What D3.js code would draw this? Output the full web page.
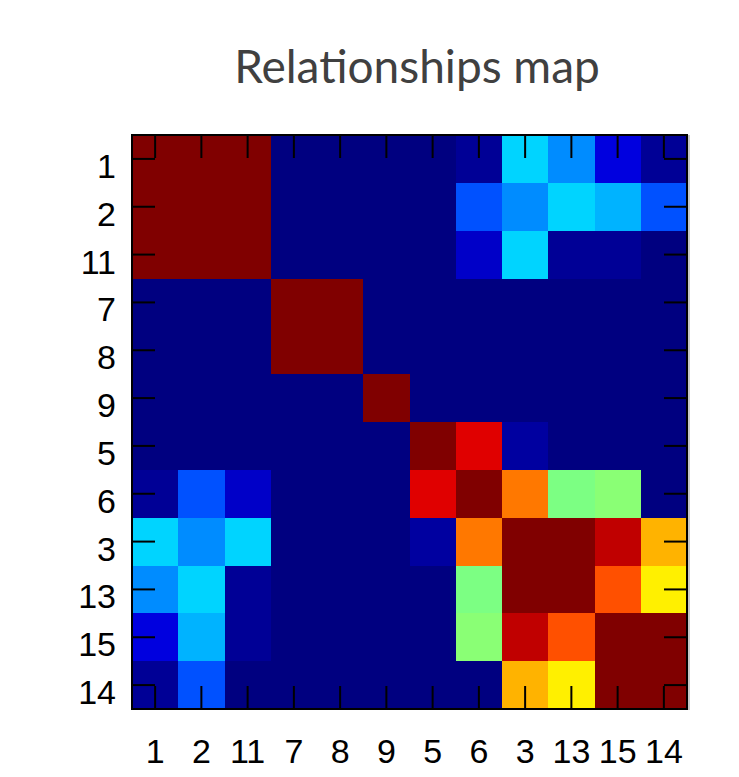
<!DOCTYPE html>
<html>
<head>
<meta charset="utf-8">
<script src="https://cdn.jsdelivr.net/npm/d3@7"></script>
<style>
  html, body { margin: 0; padding: 0; background: #fff; }
  svg { display: block; }
</style>
</head>
<body>
<svg id="chart" width="739" height="777"></svg>
<script>
// Item order shared by rows and columns
const order = ["1", "2", "11", "7", "8", "9", "5", "6", "3", "13", "15", "14"];

// Pairwise relationship strength (0..1), one array per row, columns in `order`
const row1  = [1, 1, 1, 0, 0, 0, 0, 0.022, 0.333, 0.262, 0.094, 0.022];
const row2  = [1, 1, 1, 0, 0, 0, 0, 0.204, 0.262, 0.333, 0.300, 0.204];
const row11 = [1, 1, 1, 0, 0, 0, 0, 0.071, 0.333, 0.022, 0.022, 0];
const row7  = [0, 0, 0, 1, 1, 0, 0, 0, 0, 0, 0, 0];
const row8  = [0, 0, 0, 1, 1, 0, 0, 0, 0, 0, 0, 0];
const row9  = [0, 0, 0, 0, 0, 1, 0, 0, 0, 0, 0, 0];
const row5  = [0, 0, 0, 0, 0, 0, 1, 0.905, 0.032, 0, 0, 0];
const row6  = [0.022, 0.204, 0.071, 0, 0, 0, 0.905, 1, 0.757, 0.497, 0.510, 0];
const row3  = [0.333, 0.262, 0.333, 0, 0, 0, 0.032, 0.757, 1, 1, 0.937, 0.700];
const row13 = [0.262, 0.333, 0.022, 0, 0, 0, 0, 0.497, 1, 1, 0.797, 0.640];
const row15 = [0.094, 0.300, 0.022, 0, 0, 0, 0, 0.510, 0.937, 0.797, 1, 1];
const row14 = [0.022, 0.204, 0, 0, 0, 0, 0, 0, 0.700, 0.640, 1, 1];
const rows = [row1, row2, row11, row7, row8, row9, row5, row6, row3, row13, row15, row14];

const svg = d3.select("#chart");

// Plot frame
const plotLeft = 132, plotTop = 135, plotRight = 687, plotBottom = 709;

const x = d3.scaleBand().domain(order).range([plotLeft, plotRight]).padding(0);
const y = d3.scaleBand().domain(order).range([plotTop, plotBottom]).padding(0);

// Jet colour map
const clamp = v => Math.max(0, Math.min(1, v));
const jet = t => {
  const r = clamp(1.5 - Math.abs(4 * t - 3));
  const g = clamp(1.5 - Math.abs(4 * t - 2));
  const b = clamp(1.5 - Math.abs(4 * t - 1));
  return d3.rgb(r * 255, g * 255, b * 255).formatHex();
};
const color = d3.scaleSequential(jet).domain([0, 1]);

// Title
svg.append("text")
  .attr("x", 417)
  .attr("y", 83)
  .attr("text-anchor", "middle")
  .attr("font-family", "Lato, 'Open Sans', sans-serif")
  .attr("font-size", 46)
  .attr("fill", "#404040")
  .text("Relationships map");

// Cells
const cells = [];
rows.forEach((r, i) => r.forEach((v, j) => cells.push({ row: order[i], col: order[j], v })));

svg.append("g")
  .attr("shape-rendering", "crispEdges")
  .selectAll("rect")
  .data(cells)
  .join("rect")
  .attr("x", d => x(d.col))
  .attr("y", d => y(d.row))
  .attr("width", x.bandwidth() + 0.5)
  .attr("height", y.bandwidth() + 0.5)
  .attr("fill", d => color(d.v));

// Axes with inward ticks
const tickLen = 23;
const fontFamily = "'Liberation Sans', Arial, sans-serif";

function styleAxis(g) {
  g.select(".domain").remove();
  g.selectAll(".tick line").attr("stroke", "#000").attr("stroke-width", 2);
  g.selectAll(".tick text")
    .attr("font-family", fontFamily)
    .attr("font-size", 34)
    .attr("fill", "#000");
}

svg.append("g")
  .attr("transform", `translate(${plotLeft},0)`)
  .call(d3.axisLeft(y).tickSizeInner(-tickLen).tickSizeOuter(0).tickPadding(16))
  .call(styleAxis)
  .call(g => g.selectAll(".tick text").attr("dy", 19));

svg.append("g")
  .attr("transform", `translate(0,${plotBottom})`)
  .call(d3.axisBottom(x).tickSizeInner(-tickLen).tickSizeOuter(0))
  .call(styleAxis)
  .call(g => g.selectAll(".tick text").attr("y", 54).attr("dy", 0));

svg.append("g")
  .attr("transform", `translate(0,${plotTop})`)
  .call(d3.axisTop(x).tickSizeInner(-tickLen).tickSizeOuter(0).tickFormat(""))
  .call(styleAxis);

svg.append("g")
  .attr("transform", `translate(${plotRight},0)`)
  .call(d3.axisRight(y).tickSizeInner(-tickLen).tickSizeOuter(0).tickFormat(""))
  .call(styleAxis);

// Frame border with a light shadow on the right
svg.append("line")
  .attr("x1", plotRight + 2).attr("x2", plotRight + 2)
  .attr("y1", plotTop).attr("y2", plotBottom + 1)
  .attr("stroke", "#c8c8c8").attr("stroke-width", 2);

svg.append("rect")
  .attr("x", plotLeft).attr("y", plotTop)
  .attr("width", plotRight - plotLeft).attr("height", plotBottom - plotTop)
  .attr("fill", "none")
  .attr("stroke", "#000")
  .attr("stroke-width", 2);
</script>
</body>
</html>
